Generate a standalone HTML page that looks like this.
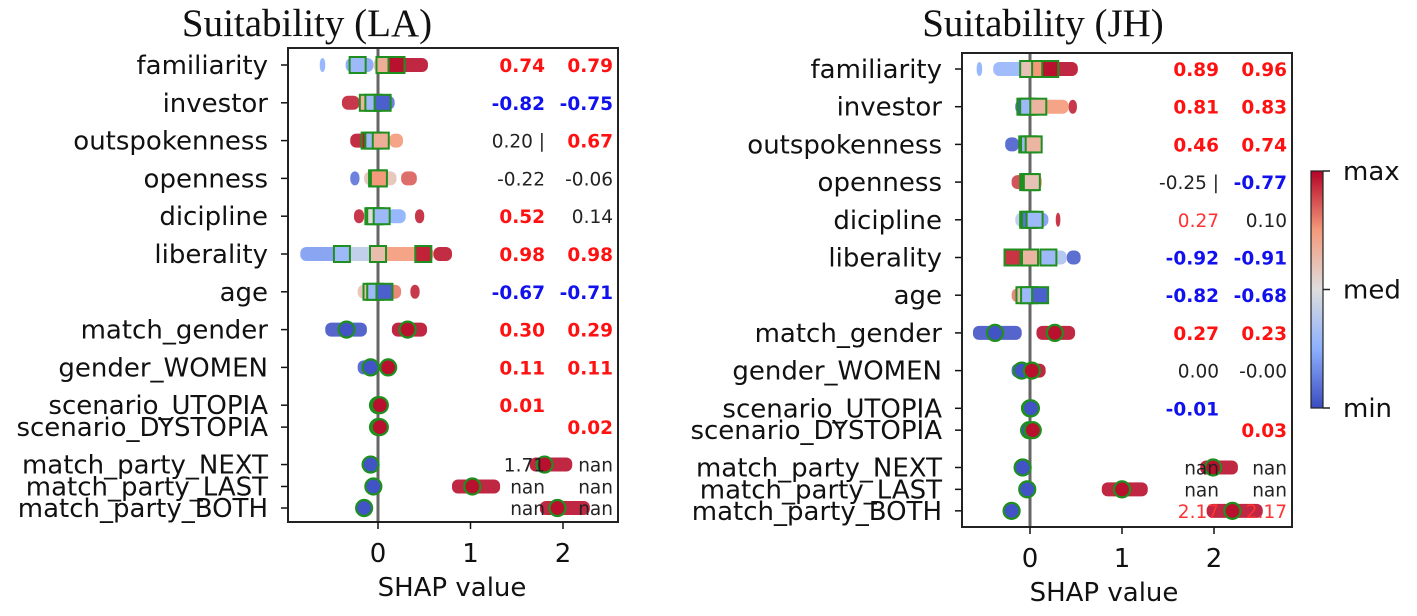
<!DOCTYPE html>
<html><head><meta charset="utf-8"><style>
body{margin:0;background:#fff;}
svg{display:block;}
</style></head><body>
<svg id="chart" width="1417" height="616" viewBox="0 0 1417 616" xmlns="http://www.w3.org/2000/svg">
<defs>
<linearGradient id="cbar" x1="0" y1="1" x2="0" y2="0">
<stop offset="0" stop-color="#3b4cc0"/><stop offset="0.25" stop-color="#8db0fe"/><stop offset="0.5" stop-color="#dddddd"/><stop offset="0.75" stop-color="#f49a7b"/><stop offset="1" stop-color="#b40426"/>
</linearGradient>
</defs>
</svg>
<script>
const features = ["familiarity","investor","outspokenness","openness","dicipline","liberality","age","match_gender","gender_WOMEN","scenario_UTOPIA","scenario_DYSTOPIA","match_party_NEXT","match_party_LAST","match_party_BOTH"];
const rowSlots = [0,1,2,3,4,5,6,7,8,9,9.58,10.57,11.15,11.72];
const xTicks = [0,1,2];
// strips: [rowIndex, lo, hi, colorLevel]
const stripsLA = [
[0,-0.63,-0.57,0.25],[0,-0.35,-0.05,0.22],[0,-0.05,0.12,0.6],[0,0.12,0.54,0.98],
[1,-0.39,-0.2,0.95],[1,-0.2,0.0,0.7],[1,0.0,0.18,0.1],
[2,-0.3,-0.08,0.97],[2,-0.08,0.12,0.6],[2,0.12,0.27,0.75],
[3,-0.3,-0.2,0.1],[3,-0.15,0.2,0.6],[3,0.25,0.42,0.85],
[4,-0.26,-0.15,0.95],[4,-0.1,0.1,0.6],[4,0.1,0.3,0.25],[4,0.4,0.5,0.95],
[5,-0.84,-0.4,0.2],[5,-0.4,0.0,0.4],[5,0.0,0.6,0.75],[5,0.6,0.8,0.97],
[6,-0.22,-0.05,0.6],[6,-0.05,0.25,0.8],[6,0.35,0.45,0.95],
[7,-0.57,-0.12,0.02],[7,0.15,0.53,0.98],
[8,-0.22,0.02,0.05],[8,0.02,0.13,0.98],
[9,-0.03,0.03,0.05],[10,-0.03,0.04,0.95],
[11,-0.12,-0.04,0.02],[11,1.64,2.1,0.98],
[12,-0.09,-0.02,0.02],[12,0.8,1.32,0.98],
[13,-0.19,-0.1,0.02],[13,1.75,2.29,0.98]];
// markers: [rowIndex, value, colorLevel, shape]
const markersLA = [
[0,-0.22,0.3,"s"],[0,0.07,0.68,"s"],[0,0.2,0.98,"s"],
[1,-0.11,0.65,"s"],[1,-0.05,0.3,"s"],[1,0.05,0.05,"s"],
[2,-0.09,0.97,"s"],[2,-0.05,0.3,"s"],[2,0.03,0.68,"s"],
[3,-0.01,0.55,"s"],[3,0.0,0.3,"s"],[3,0.01,0.75,"s"],
[4,-0.05,0.6,"s"],[4,-0.03,0.5,"s"],[4,0.04,0.3,"s"],
[5,-0.39,0.3,"s"],[5,0.0,0.62,"s"],[5,0.49,0.95,"s"],
[6,-0.07,0.6,"s"],[6,-0.03,0.3,"s"],[6,0.07,0.05,"s"],
[7,-0.34,0.02,"c"],[7,0.32,0.98,"c"],
[8,-0.08,0.02,"c"],[8,0.11,0.98,"c"],
[9,0.0,0.02,"c"],[9,0.02,0.98,"c"],[10,0.0,0.02,"c"],[10,0.02,0.98,"c"],
[11,-0.08,0.02,"c"],[11,1.8,0.98,"c"],
[12,-0.05,0.02,"c"],[12,1.02,0.98,"c"],
[13,-0.15,0.02,"c"],[13,1.94,0.98,"c"]];
// annotations: [rowIndex, col(0/1), text, style r/b/k/rl]
const annotLA = [
[0,0,"0.74","r"],[0,1,"0.79","r"],[1,0,"-0.82","b"],[1,1,"-0.75","b"],
[2,0,"0.20  |","k"],[2,1,"0.67","r"],[3,0,"-0.22","k"],[3,1,"-0.06","k"],
[4,0,"0.52","r"],[4,1,"0.14","k"],[5,0,"0.98","r"],[5,1,"0.98","r"],
[6,0,"-0.67","b"],[6,1,"-0.71","b"],[7,0,"0.30","r"],[7,1,"0.29","r"],
[8,0,"0.11","r"],[8,1,"0.11","r"],[9,0,"0.01","r"],[10,1,"0.02","r"],
[11,0,"1.71","k"],[11,1,"nan","k"],[12,0,"nan","k"],[12,1,"nan","k"],[13,0,"nan","k"],[13,1,"nan","k"]];

const stripsJH = [
[0,-0.58,-0.52,0.25],[0,-0.4,-0.05,0.28],[0,-0.05,0.12,0.6],[0,0.12,0.52,0.98],
[1,-0.16,-0.02,0.05],[1,-0.02,0.1,0.5],[1,0.1,0.42,0.75],[1,0.42,0.51,0.95],
[2,-0.27,-0.12,0.05],[2,-0.12,0.0,0.9],[2,0.0,0.11,0.75],
[3,-0.2,-0.05,0.9],[3,-0.05,0.05,0.55],[3,0.05,0.13,0.75],
[4,-0.16,0.0,0.4],[4,0.0,0.2,0.2],[4,0.28,0.33,0.95],
[5,-0.28,-0.05,0.95],[5,-0.05,0.15,0.65],[5,0.15,0.4,0.35],[5,0.4,0.55,0.05],
[6,-0.2,-0.05,0.8],[6,-0.05,0.05,0.3],[6,0.05,0.13,0.8],
[7,-0.62,-0.09,0.02],[7,0.07,0.49,0.98],
[8,-0.2,0.0,0.05],[8,0.0,0.17,0.98],
[9,-0.02,0.02,0.05],[10,-0.02,0.05,0.95],
[11,-0.12,-0.04,0.02],[11,1.85,2.26,0.98],
[12,-0.07,0.0,0.02],[12,0.78,1.28,0.98],
[13,-0.26,-0.14,0.02],[13,1.92,2.53,0.98]];
const markersJH = [
[0,-0.02,0.6,"s"],[0,0.11,0.75,"s"],[0,0.22,0.98,"s"],
[1,-0.05,0.05,"s"],[1,-0.02,0.3,"s"],[1,0.09,0.65,"s"],
[2,-0.03,0.8,"s"],[2,-0.01,0.3,"s"],[2,0.04,0.65,"s"],
[3,-0.02,0.8,"s"],[3,0.0,0.3,"s"],[3,0.02,0.6,"s"],
[4,-0.02,0.6,"s"],[4,0.0,0.1,"s"],[4,0.05,0.3,"s"],
[5,-0.19,0.92,"s"],[5,0.0,0.65,"s"],[5,0.2,0.3,"s"],
[6,-0.06,0.6,"s"],[6,-0.01,0.3,"s"],[6,0.11,0.05,"s"],
[7,-0.38,0.02,"c"],[7,0.27,0.98,"c"],
[8,-0.09,0.02,"c"],[8,0.02,0.98,"c"],
[9,0.0,0.02,"c"],[9,0.01,0.02,"c"],[10,-0.01,0.02,"c"],[10,0.03,0.98,"c"],
[11,-0.08,0.02,"c"],[11,1.99,0.98,"c"],
[12,-0.03,0.02,"c"],[12,1.0,0.98,"c"],
[13,-0.2,0.02,"c"],[13,2.2,0.98,"c"]];
const annotJH = [
[0,0,"0.89","r"],[0,1,"0.96","r"],[1,0,"0.81","r"],[1,1,"0.83","r"],
[2,0,"0.46","r"],[2,1,"0.74","r"],[3,0,"-0.25 |","k"],[3,1,"-0.77","b"],
[4,0,"0.27","rl"],[4,1,"0.10","k"],[5,0,"-0.92","b"],[5,1,"-0.91","b"],
[6,0,"-0.82","b"],[6,1,"-0.68","b"],[7,0,"0.27","r"],[7,1,"0.23","r"],
[8,0,"0.00","k"],[8,1,"-0.00","k"],[9,0,"-0.01","b"],[10,1,"0.03","r"],
[11,0,"nan","k"],[11,1,"nan","k"],[12,0,"nan","k"],[12,1,"nan","k"],[13,0,"2.17","rl"],[13,1,"2.17","rl"]];

const cbarLabels = ["min","med","max"];

const NS="http://www.w3.org/2000/svg";
const svg=document.getElementById('chart');
function mk(tag,attrs,parent){const e=document.createElementNS(NS,tag);for(const k in attrs)e.setAttribute(k,attrs[k]);(parent||svg).appendChild(e);return e;}
function cw(t){
  const stops=[[0,[59,76,192]],[0.25,[141,176,254]],[0.5,[221,221,221]],[0.75,[244,154,123]],[1,[180,4,38]]];
  for(let i=0;i<stops.length-1;i++){const a=stops[i],b=stops[i+1];if(t<=b[0]){const f=(t-a[0])/(b[0]-a[0]);return 'rgb('+a[1].map((v,j)=>Math.round(v+(b[1][j]-v)*f)).join(',')+')';}}
  return 'rgb(180,4,38)';
}
function panel(cfg,strips,markers,annots){
  const g=mk('g',{});
  
  
  const xs=v=>cfg.x0+v*cfg.unit;
  const ys=i=>cfg.yTop+rowSlots[i]*cfg.rowStep;
  const t=mk('text',{x:cfg.titleX,y:36,'text-anchor':'middle','font-family':'Liberation Serif, serif','font-size':39,fill:'#111'},g);
  t.textContent=cfg.title;
  
  
  features.forEach((f,i)=>{
    const y=ys(i);
    mk('line',{x1:cfg.left-7,x2:cfg.left,y1:y,y2:y,stroke:'#111','stroke-width':1.5},g);
    const l=mk('text',{x:cfg.left-20,y:y+9,'text-anchor':'end','font-family':'DejaVu Sans, sans-serif','font-size':26,fill:'#111'},g);
    l.textContent=f;
    
    
  });
  strips.forEach(s=>{
    const y=ys(s[0]);
    const r=mk('rect',{x:xs(s[1]),y:y-7,width:Math.max(3,xs(s[2])-xs(s[1])),height:14,rx:6,fill:cw(s[3]),opacity:0.9},g);
    
    
  });
  mk('line',{x1:cfg.x0,x2:cfg.x0,y1:cfg.top,y2:cfg.bottom,stroke:'#666','stroke-width':3},g);
  markers.forEach(m=>{
    const y=ys(m[0]),x=xs(m[1]);
    let e;
    if(m[3]==='s') e=mk('rect',{x:x-8,y:y-8,width:16,height:16,fill:cw(m[2]),stroke:'#1f8f1f','stroke-width':2},g);
    else e=mk('circle',{cx:x,cy:y,r:8,fill:cw(m[2]),stroke:'#1f8f1f','stroke-width':2.2},g);
    
    
  });
  const col={r:'#ff1111',b:'#1111ee',k:'#222',rl:'#ff3333'};
  annots.forEach(a=>{
    const bold=(a[3]==='r'||a[3]==='b');
    const e=mk('text',{x:a[1]===0?cfg.ann0:cfg.ann1,y:ys(a[0])+7,'text-anchor':'end','font-family':'DejaVu Sans, sans-serif','font-size':18.5,'font-weight':bold?'bold':'normal',fill:col[a[3]],'xml:space':'preserve'},g);
    e.textContent=a[2];
    
    
  });
  mk('rect',{x:cfg.left,y:cfg.top,width:cfg.right-cfg.left,height:cfg.bottom-cfg.top,fill:'none',stroke:'#222','stroke-width':2},g);
  xTicks.forEach(v=>{
    mk('line',{x1:xs(v),x2:xs(v),y1:cfg.bottom,y2:cfg.bottom+7,stroke:'#111','stroke-width':1.5},g);
    const e=mk('text',{x:xs(v),y:cfg.bottom+40,'text-anchor':'middle','font-family':'DejaVu Sans, sans-serif','font-size':26,fill:'#111'},g);
    e.textContent=v;
    
    
  });
  const xt=mk('text',{x:cfg.x0+74,y:cfg.bottom+74,'text-anchor':'middle','font-family':'DejaVu Sans, sans-serif','font-size':26,fill:'#111'},g);
  xt.textContent='SHAP value';
  
  
}
panel({name:'panel-la',title:'Suitability (LA)',titleX:307,left:288,right:618,top:48,bottom:522,x0:378,unit:92.5,yTop:65,rowStep:37.8,ann0:545,ann1:613},stripsLA,markersLA,annotLA);
panel({name:'panel-jh',title:'Suitability (JH)',titleX:1043,left:962,right:1292,top:53,bottom:527,x0:1030,unit:92,yTop:69,rowStep:37.7,ann0:1219,ann1:1287},stripsJH,markersJH,annotJH);
// colorbar
const cb=mk('rect',{x:1311,y:171,width:12,height:237,fill:'url(#cbar)',stroke:'#222','stroke-width':1.2});


cbarLabels.forEach((s,i)=>{
  const y=408-i*118.5;
  mk('line',{x1:1323,x2:1330,y1:y,y2:y,stroke:'#222','stroke-width':1.5});
  const e=mk('text',{x:1343,y:y+9,'font-family':'DejaVu Sans, sans-serif','font-size':26,fill:'#111'});
  e.textContent=s;
  
  
});
</script>
</body></html>
